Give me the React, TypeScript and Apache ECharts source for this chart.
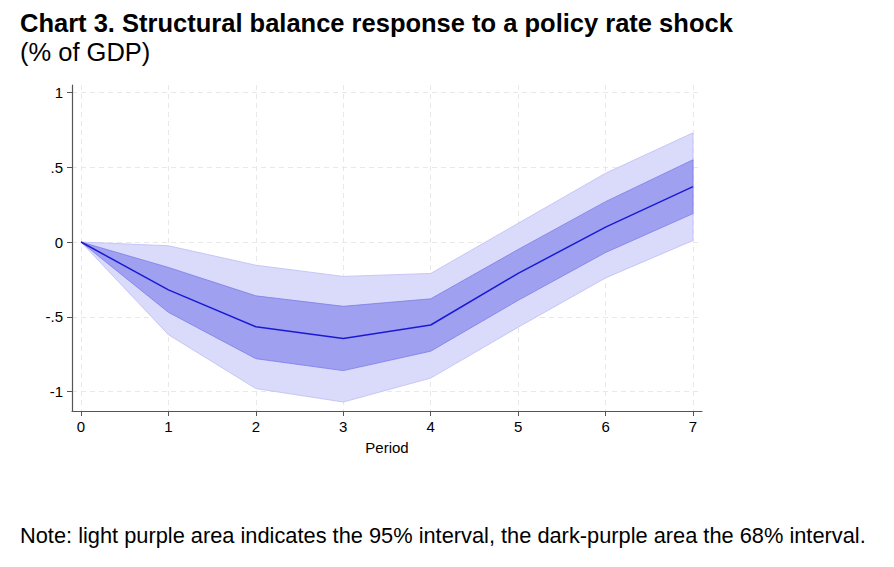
import React, { useEffect, useRef } from "react";
import * as echarts from "echarts";

const periods = [0, 1, 2, 3, 4, 5, 6, 7];
const pointEstimate = [0, -0.32, -0.567, -0.645, -0.555, -0.21, 0.1, 0.37];
const upper68 = [0, -0.17, -0.36, -0.43, -0.38, -0.05, 0.27, 0.55];
const lower68 = [0, -0.47, -0.78, -0.86, -0.73, -0.39, -0.07, 0.19];
const upper95 = [0, -0.025, -0.155, -0.23, -0.21, 0.125, 0.46, 0.73];
const lower95 = [0, -0.62, -0.98, -1.07, -0.91, -0.57, -0.24, 0.01];
const xTicks = [0, 1, 2, 3, 4, 5, 6, 7];
const yTicks = [-1, -0.5, 0, 0.5, 1];

const titleText = "Chart 3. Structural balance response to a policy rate shock";
const subtitleText = "(% of GDP)";
const noteText =
  "Note: light purple area indicates the 95% interval, the dark-purple area the 68% interval.";

const FONT = "Liberation Sans, Arial, sans-serif";
const LIGHT = "#dadafa";
const DARK = "#a0a0f0";

function bandSeries(upper: number[], lower: number[], fill: string, stroke: string, z: number) {
  return {
    type: "custom",
    silent: true,
    z,
    data: [[0, 0]],
    renderItem: (_params: any, api: any) => {
      const pts: number[][] = [];
      periods.forEach((p, i) => pts.push(api.coord([p, upper[i]])));
      for (let i = periods.length - 1; i >= 0; i--) pts.push(api.coord([periods[i], lower[i]]));
      return {
        type: "polygon",
        shape: { points: pts },
        style: { fill, stroke, lineWidth: 0.8 },
      };
    },
  };
}

export default function App() {
  const ref = useRef<HTMLDivElement>(null);
  useEffect(() => {
    document.body.style.margin = "0";
    if (!ref.current) return;
    const chart = echarts.init(ref.current, null, { renderer: "svg" });
    const pairs = (arr: number[]) => periods.map((p, i) => [p, arr[i]]);
    chart.setOption({
      animation: false,
      title: [
        {
          text: titleText,
          left: 20,
          top: 9.6,
          padding: 0,
          textStyle: { fontFamily: FONT, fontSize: 25.5, fontWeight: "bold", color: "#000" },
        },
        {
          text: subtitleText,
          left: 20,
          top: 38.6,
          padding: 0,
          textStyle: { fontFamily: FONT, fontSize: 25.5, fontWeight: "normal", color: "#000" },
        },
        {
          text: noteText,
          left: 20,
          top: 524,
          padding: 0,
          textStyle: { fontFamily: FONT, fontSize: 21.8, fontWeight: "normal", color: "#000" },
        },
      ],
      grid: { left: 72, right: 192, top: 85, bottom: 156 },
      xAxis: {
        type: "value",
        min: -0.103,
        max: 7.103,
        name: "Period",
        nameLocation: "middle",
        nameGap: 29,
        nameTextStyle: { fontFamily: FONT, fontSize: 15, color: "#000" },
        axisLine: { show: true, onZero: false, lineStyle: { color: "#555", width: 1.2 } },
        axisTick: { show: true, length: 5, customValues: xTicks, lineStyle: { color: "#555" } },
        axisLabel: {
          customValues: xTicks,
          fontFamily: FONT,
          fontSize: 15,
          color: "#000",
          margin: 8,
        },
        splitLine: { show: true, lineStyle: { color: "#e8e8e8", type: [5, 4], width: 1 } },
      },
      yAxis: {
        type: "value",
        min: -1.13,
        max: 1.05,
        axisLine: { show: true, onZero: false, lineStyle: { color: "#555", width: 1.2 } },
        axisTick: { show: true, length: 5, customValues: yTicks, lineStyle: { color: "#555" } },
        axisLabel: {
          customValues: yTicks,
          fontFamily: FONT,
          fontSize: 15,
          color: "#000",
          margin: 9,
          formatter: (v: number) => (v === 0 ? "0" : String(v).replace("0.", ".")),
        },
        splitLine: { show: true, lineStyle: { color: "#e8e8e8", type: [5, 4], width: 1 } },
      },
      series: [
        bandSeries(upper95, lower95, LIGHT, "#bcbcf5", 2),
        bandSeries(upper68, lower68, DARK, "#7c7ce8", 3),
        {
          type: "line",
          data: pairs(pointEstimate),
          symbol: "none",
          lineStyle: { width: 1.5, color: "#1a1ad4" },
          z: 5,
        },
      ],
    });
    return () => chart.dispose();
  }, []);
  return <div ref={ref} style={{ width: 894, height: 567 }} />;
}
